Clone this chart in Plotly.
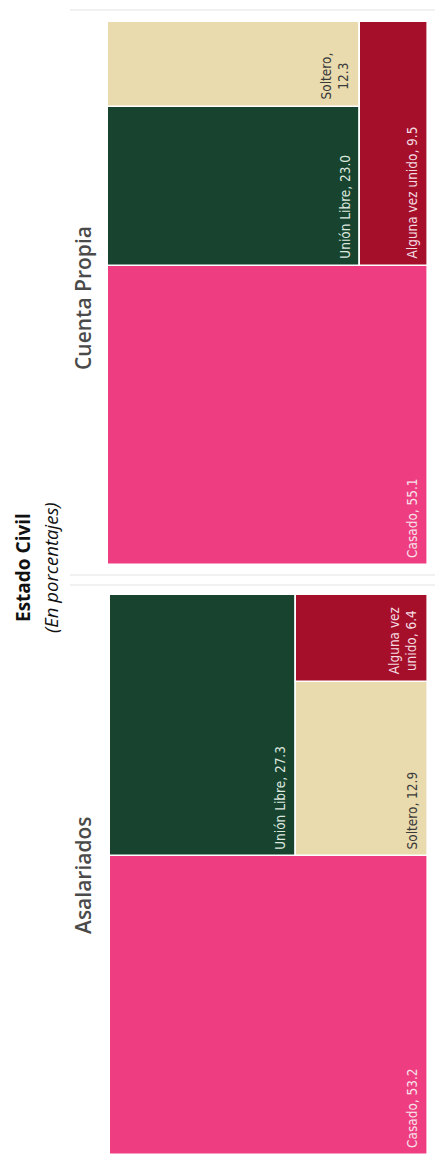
import plotly.graph_objects as go

# Marital status shares (percent) by employment type
categories = ["Casado", "Unión Libre", "Soltero", "Alguna vez unido"]
cuenta_propia = [55.1, 23.0, 12.3, 9.5]
asalariados = [53.2, 27.3, 12.9, 6.4]
panel_names = ["Cuenta Propia", "Asalariados"]

title_text = "Estado Civil"
subtitle_text = "(En porcentajes)"

fill_colors = {
    "Casado": "#EE3D80",
    "Unión Libre": "#17432F",
    "Soltero": "#E9DBAE",
    "Alguna vez unido": "#A60F2A",
}
label_colors = {
    "Casado": "#F6E3EA",
    "Unión Libre": "#DDE8DF",
    "Soltero": "#3A3A3A",
    "Alguna vez unido": "#F3DCE0",
}

# How the smaller categories are grouped into columns above "Casado"
panel_columns = {
    "Cuenta Propia": [["Unión Libre", "Soltero"], ["Alguna vez unido"]],
    "Asalariados": [["Unión Libre"], ["Soltero", "Alguna vez unido"]],
}
# Label templates that wrap onto two lines
label_templates = {
    ("Cuenta Propia", "Soltero"): "{n},<br>{v}",
    ("Asalariados", "Alguna vez unido"): "Alguna vez<br>unido, {v}",
}

# Pixel frame of the page and of each panel
W, H = 435, 1160
panel_px = {
    "Cuenta Propia": dict(x0=108, x1=428, y0=22, y1=565, head_y=298),
    "Asalariados": dict(x0=110, x1=428, y0=595, y1=1155, head_y=875),
}


def tile(values, columns):
    """Casado fills the bottom band; the rest is split into columns."""
    vals = dict(zip(categories, values))
    total = sum(values)
    base = vals["Casado"]
    rects = {"Casado": (0.0, 1.0, 0.0, base)}
    rest = total - base
    x = 0.0
    for col in columns:
        col_sum = sum(vals[n] for n in col)
        w = col_sum / rest
        y = base
        for n in col:
            h = vals[n] / col_sum * rest
            rects[n] = (x, x + w, y, y + h)
            y += h
        x += w
    return rects, total


fig = go.Figure()
annotations = []

for i, (pname, values) in enumerate(zip(panel_names, [cuenta_propia, asalariados]), start=1):
    rects, total = tile(values, panel_columns[pname])
    xa = "x" if i == 1 else f"x{i}"
    ya = "y" if i == 1 else f"y{i}"
    names = categories
    fig.add_trace(go.Bar(
        x=[(rects[n][0] + rects[n][1]) / 2 for n in names],
        width=[rects[n][1] - rects[n][0] for n in names],
        base=[rects[n][2] for n in names],
        y=[rects[n][3] - rects[n][2] for n in names],
        marker=dict(color=[fill_colors[n] for n in names],
                    line=dict(color="white", width=1.6)),
        xaxis=xa, yaxis=ya, showlegend=False, hoverinfo="skip",
    ))
    for n, v in zip(names, values):
        tmpl = label_templates.get((pname, n), "{n}, {v}")
        annotations.append(dict(
            text=tmpl.format(n=n, v=f"{v:.1f}"),
            xref=xa, yref=ya, x=rects[n][1], y=rects[n][2],
            xanchor="right", yanchor="bottom", xshift=-6, yshift=5,
            textangle=-90, showarrow=False, align="center",
            font=dict(family="Liberation Sans Narrow, DejaVu Sans Condensed, sans-serif",
                      size=13.5, color=label_colors[n]),
        ))
    p = panel_px[pname]
    fig.layout[f"xaxis{'' if i == 1 else i}"] = dict(
        domain=[p["x0"] / W, p["x1"] / W], range=[0, 1], visible=False,
        fixedrange=True, anchor=ya)
    fig.layout[f"yaxis{'' if i == 1 else i}"] = dict(
        domain=[1 - p["y1"] / H, 1 - p["y0"] / H], range=[0, total], visible=False,
        fixedrange=True, anchor=xa)
    # Panel heading
    annotations.append(dict(
        text=pname, xref="paper", yref="paper",
        x=83 / W, y=1 - p["head_y"] / H,
        xanchor="center", yanchor="middle", textangle=-90, showarrow=False,
        font=dict(family="Open Sans, sans-serif", size=21, color="#4A4A4A", weight=600),
    ))

# Chart title and subtitle
annotations.append(dict(
    text=f"<b>{title_text}</b>", xref="paper", yref="paper",
    x=23 / W, y=1 - 568 / H, xanchor="center", yanchor="middle",
    textangle=-90, showarrow=False,
    font=dict(family="Open Sans, sans-serif", size=19, color="#111111"),
))
annotations.append(dict(
    text=f"<i>{subtitle_text}</i>", xref="paper", yref="paper",
    x=50 / W, y=1 - 568 / H, xanchor="center", yanchor="middle",
    textangle=-90, showarrow=False,
    font=dict(family="Open Sans, sans-serif", size=18.5, color="#111111"),
))

# Thin separator rules between panels
shapes = []
for yy in [10, 575, 585]:
    shapes.append(dict(type="line", xref="paper", yref="paper",
                       x0=70 / W, x1=1.0, y0=1 - yy / H, y1=1 - yy / H,
                       line=dict(color="#EDEDED", width=1.5)))

fig.update_layout(
    width=W, height=H, margin=dict(l=0, r=0, t=0, b=0),
    paper_bgcolor="white", plot_bgcolor="white",
    barmode="overlay", bargap=0,
    annotations=annotations, shapes=shapes,
)

fig.write_html("out.html", config={"displayModeBar": False})
